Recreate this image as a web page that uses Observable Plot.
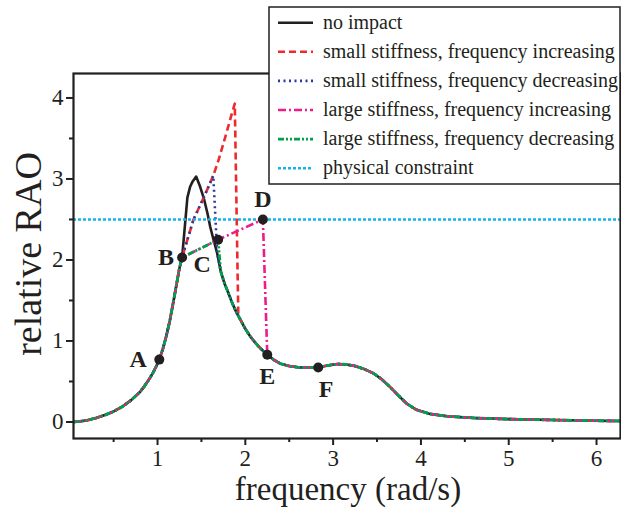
<!DOCTYPE html>
<html><head><meta charset="utf-8">
<script src="https://cdn.jsdelivr.net/npm/d3@7"></script>
<script src="https://cdn.jsdelivr.net/npm/@observablehq/plot@0.6"></script>
<style>body{margin:0;background:#fff}#chart{width:621px;height:508px}</style>
</head><body><div id="chart"></div>
<script>
// ---- data ----
const freq = [0.043,0.1,0.2,0.3,0.4,0.5,0.6,0.7,0.8,0.85,0.9,0.95,1.0,1.02,1.06,1.1,1.14,1.18,1.22,1.25,1.28,1.31,1.34,1.37,1.40,1.44,1.48,1.53,1.57,1.60,1.64,1.68,1.72,1.76,1.80,1.85,1.90,1.95,2.00,2.06,2.12,2.18,2.25,2.32,2.40,2.50,2.60,2.70,2.83,2.95,3.05,3.15,3.25,3.35,3.46,3.55,3.65,3.75,3.84,3.95,4.10,4.30,4.60,5.00,5.50,6.00,6.273];
const raoNoImpact = [0.0,0.005,0.02,0.05,0.085,0.13,0.19,0.27,0.37,0.44,0.52,0.61,0.72,0.77,0.9,1.06,1.25,1.48,1.72,1.9,2.03,2.4,2.77,2.9,2.97,3.03,2.92,2.75,2.57,2.41,2.24,2.08,1.86,1.72,1.61,1.47,1.35,1.25,1.15,1.05,0.97,0.9,0.83,0.77,0.72,0.69,0.675,0.67,0.673,0.70,0.715,0.71,0.69,0.655,0.60,0.53,0.43,0.32,0.225,0.15,0.10,0.07,0.05,0.035,0.025,0.015,0.012];

// small stiffness upper branch (from B to the top) and its jumps
const smallBranchFreq = [1.28,1.34,1.41,1.53,1.635,1.70,1.78,1.85,1.88];
const smallBranchRao  = [2.03,2.25,2.50,2.78,3.04,3.25,3.55,3.82,3.93];
const smallDropFreq = [1.88,1.92];   // frequency increasing: jump down
const smallDropRao  = [3.93,1.32];
const smallJumpFreq = [1.635,1.68];  // frequency decreasing: jump up
const smallJumpRao  = [3.04,2.08];

// large stiffness branch B -> C -> D and its jumps
const largeBranchFreq = [1.28,1.69,2.20];
const largeBranchRao  = [2.03,2.25,2.50];
const largeDropFreq = [2.20,2.25];
const largeDropRao  = [2.50,0.83];
const largeJumpFreq = [1.69,1.72];
const largeJumpRao  = [2.25,1.86];

const constraintRao = 2.5;

const pointNames = ["A","B","C","D","E","F"];
const pointFreq  = [1.02,1.28,1.69,2.20,2.25,2.83];
const pointRao   = [0.77,2.03,2.25,2.50,0.83,0.673];

const xTicks = [1,2,3,4,5,6];
const xMinorTicks = [0.5,1.5,2.5,3.5,4.5,5.5];
const yTicks = [0,1,2,3,4];
const yMinorTicks = [0.5,1.5,2.5,3.5];

const legendLabels = ["no impact","small stiffness, frequency increasing","small stiffness, frequency decreasing","large stiffness, frequency increasing","large stiffness, frequency decreasing","physical constraint"];

// ---- styles ----
const C = {black:"#231f20", red:"#ee2a2e", blue:"#2b3a9a", magenta:"#ec1c8c", green:"#00a04e", cyan:"#16b2ec"};
const styles = [
  {stroke:C.black, dash:null, w:2.6},
  {stroke:C.red, dash:"7,4", w:2.6},
  {stroke:C.blue, dash:"2,3.5", w:2.6},
  {stroke:C.magenta, dash:"8,3,2,3", w:2.6},
  {stroke:C.green, dash:"6,2,2,2,2,2", w:2.8},
  {stroke:C.cyan, dash:"3,2", w:2.6}
];
const labelOffsets = {A:[-21,0],B:[-16,0],C:[-16,25],D:[0,-20],E:[0,22],F:[8,22]};

// ---- build series ----
const base = freq.map((f,i)=>({f, r: raoNoImpact[i]}));
const seg = (lo,hi) => base.filter(d => d.f >= lo && d.f <= hi);
const pts = (fs,rs) => fs.map((f,i)=>({f, r: rs[i]}));

const redPath = [...seg(0,1.28), ...pts(smallBranchFreq,smallBranchRao).slice(1), ...pts(smallDropFreq,smallDropRao).slice(1), ...seg(1.93,7)];
const bluePath = [...seg(0,1.28), ...pts(smallBranchFreq,smallBranchRao).filter(d=>d.f>1.28 && d.f<1.635), ...pts(smallJumpFreq,smallJumpRao), ...seg(1.681,7)];
const magentaPath = [...seg(0,1.28), ...pts(largeBranchFreq,largeBranchRao).slice(1), ...pts(largeDropFreq,largeDropRao).slice(1), ...seg(2.251,7)];
const greenPath = [...seg(0,1.28), ...pts(largeBranchFreq,largeBranchRao).slice(1,2), ...pts(largeJumpFreq,largeJumpRao).slice(1), ...seg(1.721,7)];
const points = pointNames.map((n,i)=>({n, f: pointFreq[i], r: pointRao[i]}));

const lineOpts = (s) => ({x:"f", y:"r", stroke:s.stroke, strokeWidth:s.w, strokeDasharray:s.dash, curve:"linear", strokeLinejoin:"round", strokeLinecap:"butt"});

const plot = Plot.plot({
  width: 621, height: 508,
  marginLeft: 73, marginRight: 1, marginTop: 73, marginBottom: 70,
  style: {fontFamily: "'Liberation Serif', 'Times New Roman', serif", fontSize: "23px", color: C.black, background: "#fff"},
  x: {domain: [0.043, 6.273], label: null},
  y: {domain: [-0.204, 4.302], label: null},
  marks: [
    Plot.line(base, lineOpts(styles[0])),
    Plot.line(redPath, lineOpts(styles[1])),
    Plot.line(bluePath, lineOpts(styles[2])),
    Plot.line(magentaPath, lineOpts(styles[3])),
    Plot.line(greenPath, lineOpts(styles[4])),
    Plot.ruleY([constraintRao], {stroke:C.cyan, strokeWidth:2.6, strokeDasharray:"3,2", strokeLinecap:"butt"}),
    Plot.dot(points, {x:"f", y:"r", r:5, fill:C.black, stroke:null}),
    ...points.map(p => Plot.text([p], {x:"f", y:"r", text:"n", dx: labelOffsets[p.n][0], dy: labelOffsets[p.n][1], fontWeight:"bold", fontSize:24, fill:C.black})),
    Plot.axisX(xTicks, {tickSize:7, tickPadding:4, strokeWidth:2, stroke:C.black, tickFormat:d3.format("d"), label:null}),
    Plot.axisX(xMinorTicks, {tickSize:4, strokeWidth:2, stroke:C.black, tickFormat:()=>"", label:null}),
    Plot.axisY(yTicks, {tickSize:7, tickPadding:3, strokeWidth:2, stroke:C.black, tickFormat:d3.format("d"), label:null}),
    Plot.axisY(yMinorTicks, {tickSize:4, strokeWidth:2, stroke:C.black, tickFormat:()=>"", label:null}),
    Plot.frame({stroke:C.black, strokeWidth:2.2})
  ]
});

const svg = d3.select(plot);
// axis titles
svg.append("text").attr("x", 348).attr("y", 500).attr("text-anchor","middle")
  .attr("font-size", 33).attr("fill", C.black).text("frequency (rad/s)");
svg.append("text").attr("transform","translate(41,254) rotate(-90)").attr("text-anchor","middle")
  .attr("font-size", 38).attr("fill", C.black).text("relative RAO");

// legend box
const lg = svg.append("g");
lg.append("rect").attr("x",269).attr("y",7).attr("width",351).attr("height",177)
  .attr("fill","#fff").attr("stroke",C.black).attr("stroke-width",1.5);
legendLabels.forEach((t,i) => {
  const yy = 22.7 + i*29.1;
  const s = styles[i];
  lg.append("line").attr("x1",278).attr("x2",313).attr("y1",yy).attr("y2",yy)
    .attr("stroke",s.stroke).attr("stroke-width",s.w).attr("stroke-dasharray",s.dash).attr("stroke-linecap","butt");
  lg.append("text").attr("x",323).attr("y",yy+6).attr("text-anchor","start").attr("font-size",20).attr("fill",C.black).text(t);
});

document.getElementById("chart").appendChild(plot);
</script>
</body></html>
